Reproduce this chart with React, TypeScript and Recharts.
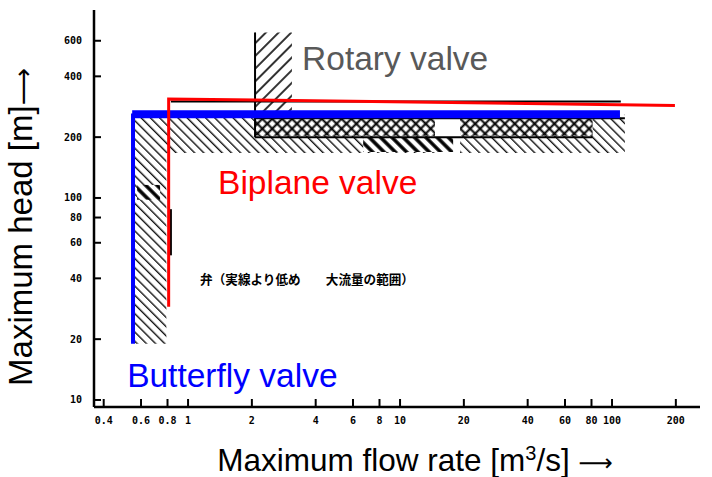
import React from 'react';
import { LineChart, Line, XAxis, YAxis, ReferenceArea, ReferenceLine, ReferenceDot } from 'recharts';

// ---- data ----
const xTicks = [0.4, 0.6, 0.8, 1, 2, 4, 6, 8, 10, 20, 40, 60, 80, 100, 200];
const yTicks = [10, 20, 40, 60, 80, 100, 200, 400, 600];
const xDomain = [0.36, 260];
const yDomain = [9.23, 852];

const butterflyVertical = [{ x: 0.55, y: 19 }, { x: 0.55, y: 262 }];
const butterflyHorizontal = [{ x: 0.545, y: 260 }, { x: 109, y: 260 }];
const biplaneLine = [{ x: 0.81, y: 28.9 }, { x: 0.81, y: 309 }, { x: 198, y: 287 }];

// hatched ranges from the scanned original
const hatchBackRegions = [
  { x1: 0.55, x2: 0.79, y1: 19, y2: 167 },
  { x1: 0.55, x2: 14.6, y1: 167, y2: 258 },
  { x1: 19.2, x2: 115, y1: 167, y2: 258 },
];
const hatchFwdRegions = [{ x1: 2.07, x2: 3.09, y1: 262, y2: 660 }];
const crossRegions = [
  { x1: 2.07, x2: 14.6, y1: 203, y2: 247 },
  { x1: 19.2, x2: 81, y1: 203, y2: 247 },
];
const boldRegions = [
  { x1: 6.7, x2: 17.8, y1: 169, y2: 200 },
  { x1: 0.575, x2: 0.738, y1: 98, y2: 116 },
];
const blackSegments = [
  [{ x: 2.07, y: 660 }, { x: 2.07, y: 200 }],
  [{ x: 2.07, y: 248 }, { x: 115, y: 248 }],
  [{ x: 2.07, y: 200 }, { x: 81, y: 200 }],
  [{ x: 0.83, y: 300 }, { x: 110, y: 300 }],
  [{ x: 0.83, y: 88 }, { x: 0.83, y: 52 }],
];

const labels = [
  { x: 3.45, y: 430, text: 'Rotary valve', color: '#595959' },
  { x: 1.385, y: 104.7, text: 'Biplane valve', color: '#ff0000' },
  { x: 0.516, y: 11.6, text: 'Butterfly valve', color: '#0000ff' },
];
const noteLabel = { x: 1.14, y: 37.5, text: '弁（実線より低め　　大流量の範囲）' };

const fmt = (v: number) => String(v);

const XTick = (props: any) => {
  const { x, y, payload } = props;
  return (
    <g>
      <line x1={x} x2={x} y1={y} y2={y - 8} stroke="#000" strokeWidth={2} />
      <text x={x} y={y + 17} textAnchor="middle" fontFamily="DejaVu Sans Mono" fontWeight="bold" fontSize={10} fill="#000">
        {fmt(payload.value)}
      </text>
    </g>
  );
};

const YTick = (props: any) => {
  const { x, y, payload } = props;
  return (
    <g>
      <line x1={x} x2={x + 7} y1={y} y2={y} stroke="#000" strokeWidth={2} />
      <text x={x - 12} y={y + 3.5} textAnchor="end" fontFamily="DejaVu Sans Mono" fontWeight="bold" fontSize={10} fill="#000">
        {fmt(payload.value)}
      </text>
    </g>
  );
};

const makeLabel = (text: string, color: string, size: number, family: string, weight: string) => (p: any) => {
  const vb = p.viewBox || {};
  return (
    <text x={vb.x} y={vb.y} fill={color} fontSize={size} fontFamily={family} fontWeight={weight}>
      {text}
    </text>
  );
};

export default function App() {
  return (
    <div style={{ position: 'absolute', left: 0, top: 0, width: 712, height: 477, background: '#fff' }}>
      <LineChart width={712} height={477} margin={{ top: 10, right: 12, bottom: 40, left: 0 }}>
        <defs>
          <pattern id="hb" patternUnits="userSpaceOnUse" width="6.5" height="6.5" patternTransform="rotate(45)">
            <line x1="0" y1="3" x2="6.5" y2="3" stroke="#000" strokeWidth="1.3" />
          </pattern>
          <pattern id="hf" patternUnits="userSpaceOnUse" width="9" height="9" patternTransform="rotate(-45)">
            <line x1="0" y1="4" x2="9" y2="4" stroke="#000" strokeWidth="1.6" />
          </pattern>
          <pattern id="hx" patternUnits="userSpaceOnUse" width="7" height="7" patternTransform="rotate(45)">
            <rect x="0" y="0" width="7" height="7" fill="#fff" />
            <line x1="0" y1="3.5" x2="7" y2="3.5" stroke="#000" strokeWidth="2" />
            <line x1="3.5" y1="0" x2="3.5" y2="7" stroke="#000" strokeWidth="2" />
          </pattern>
          <pattern id="hbold" patternUnits="userSpaceOnUse" width="8" height="8" patternTransform="rotate(45)">
            <rect x="0" y="0" width="8" height="8" fill="#fff" />
            <line x1="0" y1="4" x2="8" y2="4" stroke="#000" strokeWidth="3.5" />
          </pattern>
        </defs>
        <XAxis
          type="number"
          dataKey="x"
          scale="log"
          domain={xDomain}
          allowDataOverflow
          ticks={xTicks}
          interval={0}
          height={30}
          tickSize={0}
          tickMargin={0}
          tick={<XTick />}
          axisLine={{ stroke: '#000', strokeWidth: 2.5 }}
          tickLine={false}
        />
        <YAxis
          type="number"
          dataKey="y"
          scale="log"
          domain={yDomain}
          allowDataOverflow
          ticks={yTicks}
          interval={0}
          width={94}
          tickSize={0}
          tickMargin={0}
          tick={<YTick />}
          axisLine={{ stroke: '#000', strokeWidth: 2.5 }}
          tickLine={false}
        />
        {hatchBackRegions.map((r, i) => (
          <ReferenceArea key={'hb' + i} x1={r.x1} x2={r.x2} y1={r.y1} y2={r.y2} fill="url(#hb)" fillOpacity={1} stroke="none" ifOverflow="hidden" />
        ))}
        {hatchFwdRegions.map((r, i) => (
          <ReferenceArea key={'hf' + i} x1={r.x1} x2={r.x2} y1={r.y1} y2={r.y2} fill="url(#hf)" fillOpacity={1} stroke="none" ifOverflow="hidden" />
        ))}
        {crossRegions.map((r, i) => (
          <ReferenceArea key={'hx' + i} x1={r.x1} x2={r.x2} y1={r.y1} y2={r.y2} fill="url(#hx)" fillOpacity={1} stroke="none" ifOverflow="hidden" />
        ))}
        {boldRegions.map((r, i) => (
          <ReferenceArea key={'bo' + i} x1={r.x1} x2={r.x2} y1={r.y1} y2={r.y2} fill="url(#hbold)" fillOpacity={1} stroke="none" ifOverflow="hidden" />
        ))}
        {blackSegments.map((s, i) => (
          <ReferenceLine key={'bl' + i} segment={s} stroke="#000" strokeWidth={2} ifOverflow="hidden" />
        ))}
        <Line data={butterflyVertical} dataKey="y" stroke="#0000ff" strokeWidth={4} dot={false} isAnimationActive={false} type="linear" />
        <Line data={butterflyHorizontal} dataKey="y" stroke="#0000ff" strokeWidth={8} dot={false} isAnimationActive={false} type="linear" />
        <Line data={biplaneLine} dataKey="y" stroke="#ff0000" strokeWidth={3} dot={false} isAnimationActive={false} type="linear" strokeLinejoin="miter" />
        {labels.map((l, i) => (
          <ReferenceDot key={'lb' + i} x={l.x} y={l.y} r={0} fill="none" stroke="none"
            label={makeLabel(l.text, l.color, 33.5, 'Liberation Sans, Arial, sans-serif', 'normal')} />
        ))}
        <ReferenceDot x={noteLabel.x} y={noteLabel.y} r={0} fill="none" stroke="none"
          label={makeLabel(noteLabel.text, '#000', 12.6, 'Noto Sans CJK JP', 'bold')} />
      </LineChart>
      <svg width={712} height={477} style={{ position: 'absolute', left: 0, top: 0, pointerEvents: 'none' }}>
        <text x={32} y={227} transform="rotate(-90, 32, 227)" textAnchor="middle" fontSize={33} fontFamily="Liberation Sans, Arial, sans-serif" fill="#000">
          Maximum head [m]<tspan fontFamily="DejaVu Sans" fontSize={26}>⟶</tspan>
        </text>
        <text x={415} y={471} textAnchor="middle" fontSize={31.5} fontFamily="Liberation Sans, Arial, sans-serif" fill="#000">
          Maximum flow rate [m<tspan dy={-11} fontSize={20}>3</tspan><tspan dy={11}>/s] </tspan><tspan fontFamily="DejaVu Sans" fontSize={24}>⟶</tspan>
        </text>
      </svg>
    </div>
  );
}
